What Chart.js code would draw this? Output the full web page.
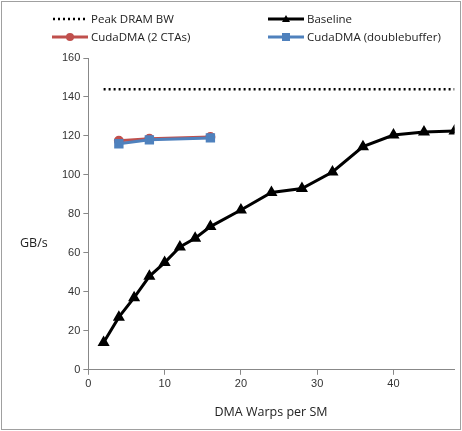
<!DOCTYPE html>
<html>
<head>
<meta charset="utf-8">
<script src="https://cdn.jsdelivr.net/npm/chart.js@4"></script>
<style>
  body { margin: 0; background: #fff; font-family: "Open Sans", "Liberation Sans", sans-serif; }
  #frame { position: absolute; left: 1px; top: 1px; width: 458px; height: 427px; border: 1px solid #a0a0a0; }
  #wrap { position: absolute; left: 0; top: 0; width: 462px; height: 431px; }
  .lg { position: absolute; font-size: 11.5px; color: #222; display: flex; align-items: center; }
  .lg svg { margin-right: 3px; }
  #ylab { position: absolute; left: 20px; top: 234px; font-size: 12.5px; color: #222; }
  #xlab { position: absolute; left: 0; width: 462px; top: 403px; text-align: center; padding-left: 80px; box-sizing: border-box; font-size: 12.5px; color: #222; }
</style>
</head>
<body>
<div id="frame"></div>
<div id="wrap"><canvas id="myChart" width="462" height="431"></canvas></div>
<div class="lg" style="left:52px;top:11px">
  <svg width="36" height="10"><line x1="1" y1="5" x2="35" y2="5" stroke="#000" stroke-width="2.5" stroke-dasharray="2,3"/></svg>Peak DRAM BW</div>
<div class="lg" style="left:268px;top:11px">
  <svg width="36" height="10"><line x1="0" y1="5" x2="36" y2="5" stroke="#000" stroke-width="3"/><polygon points="18,1 22,8 14,8" fill="#000"/></svg>Baseline</div>
<div class="lg" style="left:52px;top:29px">
  <svg width="36" height="10"><line x1="0" y1="5" x2="36" y2="5" stroke="#c0504d" stroke-width="3"/><circle cx="18" cy="5" r="4" fill="#c0504d"/></svg>CudaDMA (2 CTAs)</div>
<div class="lg" style="left:268px;top:29px">
  <svg width="36" height="10"><line x1="0" y1="5" x2="36" y2="5" stroke="#4f81bd" stroke-width="3"/><rect x="14" y="1" width="8" height="8" fill="#4f81bd"/></svg>CudaDMA (doublebuffer)</div>
<div id="ylab">GB/s</div>
<div id="xlab">DMA Warps per SM</div>
<script>
// x positions (warps per SM)
var baselineWarps = [2, 4, 6, 8, 10, 12, 14, 16, 20, 24, 28, 32, 36, 40, 44, 48];
var baselineBW = [14, 27, 37, 48, 55, 63, 67.5, 73.5, 82, 91, 93, 101.5, 114.5, 120.5, 122, 122.5];

var dmaWarps = [4, 8, 16];
var ctasBW = [117.5, 118.5, 119.5];
var dbufBW = [116, 118, 119];

var peakWarps = [2, 48];
var peakBW = [144, 144];

function pts(xs, ys) {
  return xs.map(function(x, i) { return { x: x, y: ys[i] }; });
}

var ctx = document.getElementById("myChart").getContext("2d");
var myChart = new Chart(ctx, {
  type: "line",
  data: {
    datasets: [
      {
        label: "Peak DRAM BW",
        data: pts(peakWarps, peakBW),
        borderColor: "#000",
        borderWidth: 2.5,
        borderDash: [2, 3],
        pointRadius: 0,
        order: 3
      },
      {
        label: "Baseline",
        data: pts(baselineWarps, baselineBW),
        borderColor: "#000",
        backgroundColor: "#000",
        borderWidth: 3,
        pointStyle: "triangle",
        pointRadius: 4,
        order: 2
      },
      {
        label: "CudaDMA (2 CTAs)",
        data: pts(dmaWarps, ctasBW),
        borderColor: "#c0504d",
        backgroundColor: "#c0504d",
        borderWidth: 3,
        pointStyle: "circle",
        pointRadius: 3.5,
        order: 1
      },
      {
        label: "CudaDMA (doublebuffer)",
        data: pts(dmaWarps, dbufBW),
        borderColor: "#4f81bd",
        backgroundColor: "#4f81bd",
        borderWidth: 3,
        pointStyle: "rect",
        pointRadius: 4.5,
        order: 0
      }
    ]
  },
  options: {
    responsive: false,
    animation: false,
    layout: { padding: { top: 58, right: 6, bottom: 37, left: 59 } },
    plugins: { legend: { display: false }, tooltip: { enabled: false } },
    scales: {
      x: {
        type: "linear",
        min: 0,
        max: 48,
        ticks: { stepSize: 10, color: "#333", font: { size: 11 } },
        grid: { drawOnChartArea: false, tickLength: 5, color: "#888" },
        border: { color: "#888" },
        afterBuildTicks: function(s) { s.ticks = [0, 10, 20, 30, 40].map(function(v) { return { value: v }; }); }
      },
      y: {
        min: 0,
        max: 160,
        ticks: { stepSize: 20, color: "#333", font: { size: 11 } },
        grid: { drawOnChartArea: false, tickLength: 5, color: "#888" },
        border: { color: "#888" }
      }
    }
  }
});
</script>
</body>
</html>
